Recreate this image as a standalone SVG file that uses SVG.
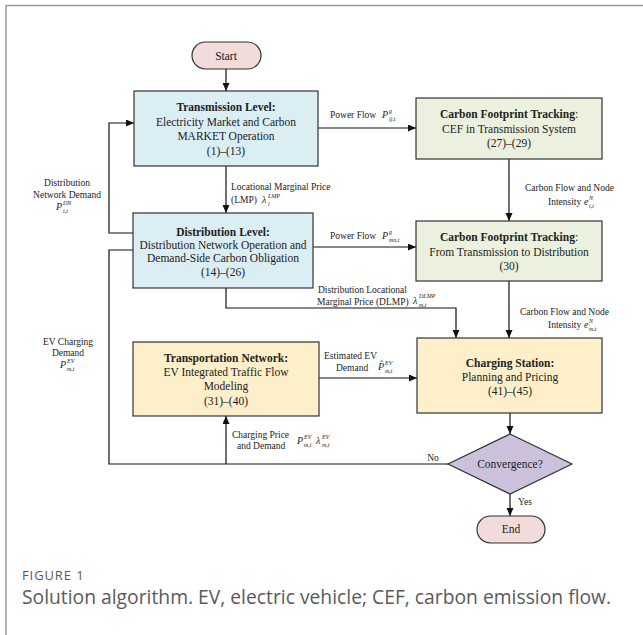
<svg xmlns="http://www.w3.org/2000/svg" width="643" height="635" viewBox="0 0 643 635">
<style>
text{font-family:"Liberation Serif","Times New Roman",serif;fill:#222}
.t{font-size:11.5px;text-anchor:middle}
.b{font-weight:bold}
.l{font-size:9.5px}
.m{font-size:10px;font-style:italic}
.s{font-size:6px;font-style:italic}
.box{stroke:#333;stroke-width:1.2}
.blue{fill:#dbeef4}.green{fill:#ebf1de}.yel{fill:#fdefc9}.lav{fill:#ccc1da}.pink{fill:#f2dcdb}
.c{fill:none;stroke:#111;stroke-width:1.2}
.cap{font-family:"Open Sans","Liberation Sans",sans-serif;fill:#5a5a5a}
</style>
<defs>
<marker id="ar" markerWidth="9" markerHeight="8" refX="8" refY="3.5" orient="auto" markerUnits="userSpaceOnUse">
<path d="M0,0 L8,3.5 L0,7 z" fill="#111"/>
</marker>
</defs>
<g id="frame" fill="none" stroke="#999" stroke-width="1.5">
<path d="M6 635 V5.5 H643"/>
</g>
<g id="connectors" class="c">
<path d="M226 69 V91" marker-end="url(#ar)"/>
<path d="M226 166 V213" marker-end="url(#ar)"/>
<path d="M318 128 H416" marker-end="url(#ar)"/>
<path d="M509 159 V221" marker-end="url(#ar)"/>
<path d="M313 247 H416" marker-end="url(#ar)"/>
<path d="M226 288 V308 H456 V338" marker-end="url(#ar)"/>
<path d="M509 281 V338" marker-end="url(#ar)"/>
<path d="M319 378 H417" marker-end="url(#ar)"/>
<path d="M510 413 V434" marker-end="url(#ar)"/>
<path d="M510 494 V516" marker-end="url(#ar)"/>
<path d="M449 464 H109 V250 H133"/>
<path d="M226 464 V416" marker-end="url(#ar)"/>
<path d="M133 233 H109 V123 H134" marker-end="url(#ar)"/>
</g>
<g id="start">
<rect class="box pink" x="192" y="42" width="69" height="27" rx="13.5"/>
<text class="t" x="226" y="60">Start</text>
</g>
<g id="transmission">
<rect class="box blue" x="134" y="91" width="184" height="75"/>
<text class="t b" x="226" y="111">Transmission Level:</text>
<text class="t" x="226" y="126">Electricity Market and Carbon</text>
<text class="t" x="226" y="140">MARKET Operation</text>
<text class="t" x="226" y="155">(1)–(13)</text>
</g>
<g id="carbon1">
<rect class="box green" x="416" y="98" width="186" height="61"/>
<text class="t" x="509" y="118"><tspan class="b">Carbon Footprint Tracking</tspan>:</text>
<text class="t" x="509" y="133">CEF in Transmission System</text>
<text class="t" x="509" y="147">(27)–(29)</text>
</g>
<g id="distribution">
<rect class="box blue" x="133" y="213" width="180" height="75"/>
<text class="t b" x="223" y="236">Distribution Level:</text>
<text class="t" x="223" y="249">Distribution Network Operation and</text>
<text class="t" x="223" y="262">Demand-Side Carbon Obligation</text>
<text class="t" x="223" y="276">(14)–(26)</text>
</g>
<g id="carbon2">
<rect class="box green" x="416" y="221" width="186" height="60"/>
<text class="t" x="509" y="241"><tspan class="b">Carbon Footprint Tracking</tspan>:</text>
<text class="t" x="509" y="256">From Transmission to Distribution</text>
<text class="t" x="509" y="270">(30)</text>
</g>
<g id="transport">
<rect class="box yel" x="133" y="342" width="186" height="74"/>
<text class="t b" x="226" y="362">Transportation Network:</text>
<text class="t" x="226" y="376">EV Integrated Traffic Flow</text>
<text class="t" x="226" y="390">Modeling</text>
<text class="t" x="226" y="405">(31)–(40)</text>
</g>
<g id="charging">
<rect class="box yel" x="417" y="338" width="185" height="75"/>
<text class="t b" x="510" y="367">Charging Station:</text>
<text class="t" x="510" y="381">Planning and Pricing</text>
<text class="t" x="510" y="395">(41)–(45)</text>
</g>
<g id="convergence">
<path class="box lav" d="M510 434 L572 464 L510 494 L448 464 Z"/>
<text class="t" x="510" y="468">Convergence?</text>
</g>
<g id="end">
<rect class="box pink" x="477" y="516" width="68" height="27" rx="13.5"/>
<text class="t" x="511" y="533">End</text>
</g>
<g id="labels">
<text class="l" x="231" y="190">Locational Marginal Price</text>
<text class="l" x="231" y="203">(LMP)</text>
<text class="m" x="262" y="203">λ</text><text class="s" x="268" y="198">LMP</text><text class="s" x="268" y="206">i</text>
<text class="l" x="330" y="118">Power Flow</text>
<text class="m" x="382" y="118">P</text><text class="s" x="389" y="113">g</text><text class="s" x="389" y="121">ij,t</text>
<text class="l" x="525" y="191">Carbon Flow and Node</text>
<text class="l" x="548" y="205">Intensity</text>
<text class="m" x="584" y="205">e</text><text class="s" x="589" y="200">N</text><text class="s" x="589" y="208">i,t</text>
<text class="l" x="330" y="239">Power Flow</text>
<text class="m" x="382" y="239">P</text><text class="s" x="389" y="234">g</text><text class="s" x="389" y="242">mn,t</text>
<text class="l" x="67" y="186" text-anchor="middle">Distribution</text>
<text class="l" x="67" y="198" text-anchor="middle">Network Demand</text>
<text class="m" x="56" y="210">P</text><text class="s" x="63" y="205">DN</text><text class="s" x="63" y="213">i,t</text>
<text class="l" x="318" y="293">Distribution Locational</text>
<text class="l" x="317" y="305">Marginal Price (DLMP)</text>
<text class="m" x="413" y="304">λ</text><text class="s" x="419" y="298">DLMP</text><text class="s" x="419" y="307">m,t</text>
<text class="l" x="520" y="315">Carbon Flow and Node</text>
<text class="l" x="548" y="328">Intensity</text>
<text class="m" x="584" y="328">e</text><text class="s" x="589" y="323">N</text><text class="s" x="589" y="331">m,t</text>
<text class="l" x="68" y="345" text-anchor="middle">EV Charging</text>
<text class="l" x="68" y="356" text-anchor="middle">Demand</text>
<text class="m" x="60" y="368">P</text><text class="s" x="67" y="363">EV</text><text class="s" x="67" y="371">m,t</text>
<text class="l" x="324" y="359">Estimated EV</text>
<text class="l" x="336" y="371">Demand</text>
<text class="m" x="378" y="370">P&#x302;</text><text class="s" x="385" y="365">EV</text><text class="s" x="385" y="373">m,t</text>
<text class="l" x="232" y="438">Charging Price</text>
<text class="l" x="237" y="449">and Demand</text>
<text class="m" x="297" y="444">P</text><text class="s" x="304" y="439">EV</text><text class="s" x="304" y="447">m,t</text>
<text class="m" x="316" y="444">λ</text><text class="s" x="322" y="439">EV</text><text class="s" x="322" y="447">m,t</text>
<text class="l" x="433" y="461" text-anchor="middle">No</text>
<text class="l" x="525" y="505" text-anchor="middle">Yes</text>
</g>
<g id="caption">
<text class="cap" x="22" y="580" font-size="13" letter-spacing="0.9">FIGURE 1</text>
<text class="cap" x="22" y="604" font-size="19.3">Solution algorithm. EV, electric vehicle; CEF, carbon emission flow.</text>
</g>
</svg>
